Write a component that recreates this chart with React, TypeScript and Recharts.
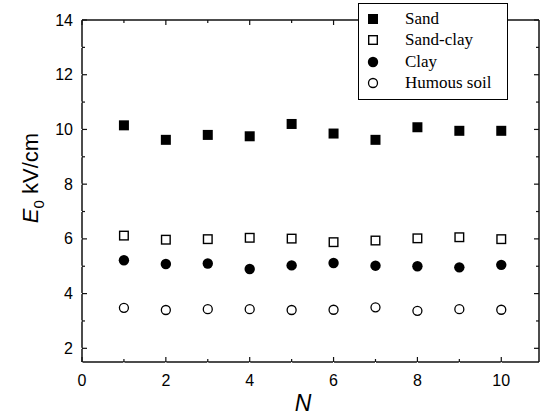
import React from 'react';
import { ScatterChart, Scatter, XAxis, YAxis, ReferenceLine } from 'recharts';

const nValues = [1, 2, 3, 4, 5, 6, 7, 8, 9, 10];
const sand = [10.15, 9.62, 9.8, 9.75, 10.2, 9.85, 9.62, 10.08, 9.95, 9.95];
const sandClay = [6.12, 5.97, 5.99, 6.04, 6.01, 5.88, 5.94, 6.02, 6.06, 5.99];
const clay = [5.22, 5.08, 5.1, 4.9, 5.03, 5.12, 5.02, 5.0, 4.96, 5.05];
const humous = [3.48, 3.4, 3.43, 3.43, 3.4, 3.41, 3.5, 3.37, 3.43, 3.41];

const xTicks = [0, 1, 2, 3, 4, 5, 6, 7, 8, 9, 10];
const yTicks = [2, 3, 4, 5, 6, 7, 8, 9, 10, 11, 12, 13, 14];
const seriesNames = ['Sand', 'Sand-clay', 'Clay', 'Humous soil'];
const xDomain = [0, 10.9];
const yDomain = [1.5, 14];

const toPoints = (vals: number[]) => nValues.map((n, i) => ({ n, v: vals[i] }));

const rightTickPts = yTicks.map((t) => ({ n: xDomain[1], v: t, t }));
const topTickPts = xTicks.map((t) => ({ n: t, v: yDomain[1], t }));

const INK = '#111';
const FONT = '"Liberation Sans", Arial, sans-serif';
const SERIF = '"Liberation Serif", "Times New Roman", serif';

type MarkerKind = 'fsq' | 'osq' | 'fci' | 'oci';

const Marker = ({ cx, cy, kind }: { cx: number; cy: number; kind: MarkerKind }) => {
  if (kind === 'fsq') return <rect x={cx - 5} y={cy - 5} width={10} height={10} fill="#000" />;
  if (kind === 'osq') return <rect x={cx - 4.3} y={cy - 4.3} width={8.6} height={8.6} fill="#fff" stroke="#000" strokeWidth={1.4} />;
  if (kind === 'fci') return <circle cx={cx} cy={cy} r={5.2} fill="#000" />;
  return <circle cx={cx} cy={cy} r={4.5} fill="#fff" stroke="#000" strokeWidth={1.3} />;
};

const mk = (kind: MarkerKind) => (props: any) => <Marker cx={Number(props.cx)} cy={Number(props.cy)} kind={kind} />;

const tickLen = (t: number) => (t % 2 === 0 ? 5 : 3);

const rightTickShape = (props: any) => {
  const len = tickLen(Number(props.payload && props.payload.t));
  return <rect x={Number(props.cx) - len} y={Number(props.cy) - 0.6} width={len} height={1.2} fill={INK} />;
};
const topTickShape = (props: any) => {
  const len = tickLen(Number(props.payload && props.payload.t));
  return <rect x={Number(props.cx) - 0.6} y={Number(props.cy)} width={1.2} height={len} fill={INK} />;
};

// tick label + inward tick mark; the axis sits tickSize + tickMargin away from the label anchor
const LeftTickLabel = (props: any) => {
  const v = props.payload.value;
  const x = Number(props.x);
  const y = Number(props.y);
  const ax = x + 6 + 3;
  const len = tickLen(v);
  return (
    <g>
      <rect x={ax} y={y - 0.6} width={len} height={1.2} fill={INK} />
      {v % 2 === 0 && (
        <text x={x} y={y} dy="0.35em" textAnchor="end" fontSize={16} fontFamily={FONT} fill="#000">
          {v}
        </text>
      )}
    </g>
  );
};

const BottomTickLabel = (props: any) => {
  const v = props.payload.value;
  const x = Number(props.x);
  const y = Number(props.y);
  const ay = y - 6 - 7;
  const len = tickLen(v);
  return (
    <g>
      <rect x={x - 0.6} y={ay - len} width={1.2} height={len} fill={INK} />
      {v % 2 === 0 && (
        <text x={x} y={y} dy="0.71em" textAnchor="middle" fontSize={16} fontFamily={FONT} fill="#000">
          {v}
        </text>
      )}
    </g>
  );
};

const kinds: MarkerKind[] = ['fsq', 'osq', 'fci', 'oci'];

const LegendBox = () => (
  <div
    style={{
      position: 'absolute',
      left: 358,
      top: 3,
      border: '1px solid #000',
      background: '#fff',
      width: 150,
      padding: '4px 0 5px 0',
      boxSizing: 'border-box',
    }}
  >
    {seriesNames.map((name, i) => (
      <div key={name} style={{ display: 'flex', alignItems: 'center', height: 21.5 }}>
        <svg width={46} height={20} style={{ display: 'block' }}>
          <Marker cx={14} cy={10} kind={kinds[i]} />
        </svg>
        <span style={{ fontFamily: SERIF, fontSize: 17, color: '#000', lineHeight: '20px' }}>{name}</span>
      </div>
    ))}
  </div>
);

const Titles = () => (
  <svg width={540} height={416} style={{ position: 'absolute', left: 0, top: 0, pointerEvents: 'none' }}>
    <text
      x={30}
      y={178}
      transform="rotate(-90 30 178)"
      textAnchor="middle"
      fontSize={22}
      fontFamily={FONT}
      fill="#000"
      dy="0.35em"
    >
      <tspan fontStyle="italic">E</tspan>
      <tspan fontSize={15} dy="6">0</tspan>
      <tspan dy="-6"> kV/cm</tspan>
    </text>
    <text x={303} y={411} textAnchor="middle" fontSize={23} fontStyle="italic" fontFamily={FONT} fill="#000">
      N
    </text>
  </svg>
);

export default function App() {
  return (
    <div style={{ position: 'absolute', left: 0, top: 0, width: 540, height: 416, background: '#fff' }}>
      <ScatterChart width={540} height={416} margin={{ top: 20, right: 1, bottom: 0, left: 0 }}>
        <XAxis
          xAxisId="b"
          dataKey="n"
          type="number"
          domain={xDomain}
          ticks={xTicks}
          interval={0}
          orientation="bottom"
          height={54}
          tickLine={{ stroke: '#ffffff', strokeWidth: 1 }}
          axisLine={{ stroke: INK, strokeWidth: 1.5 }}
          tickMargin={7}
          tick={<BottomTickLabel />}
        />
        <YAxis
          yAxisId="l"
          dataKey="v"
          type="number"
          domain={yDomain}
          ticks={yTicks}
          interval={0}
          orientation="left"
          width={82}
          tickLine={{ stroke: '#ffffff', strokeWidth: 1 }}
          axisLine={{ stroke: INK, strokeWidth: 1.5 }}
          tickMargin={3}
          tick={<LeftTickLabel />}
        />
        <ReferenceLine xAxisId="b" yAxisId="l" y={yDomain[1]} stroke={INK} strokeWidth={1.5} />
        <ReferenceLine xAxisId="b" yAxisId="l" x={xDomain[1]} stroke={INK} strokeWidth={1.5} />
        <Scatter name="rt" data={rightTickPts} xAxisId="b" yAxisId="l" shape={rightTickShape} legendType="none" isAnimationActive={false} />
        <Scatter name="tt" data={topTickPts} xAxisId="b" yAxisId="l" shape={topTickShape} legendType="none" isAnimationActive={false} />
        <Scatter name="Sand" data={toPoints(sand)} xAxisId="b" yAxisId="l" shape={mk('fsq')} isAnimationActive={false} />
        <Scatter name="Sand-clay" data={toPoints(sandClay)} xAxisId="b" yAxisId="l" shape={mk('osq')} isAnimationActive={false} />
        <Scatter name="Clay" data={toPoints(clay)} xAxisId="b" yAxisId="l" shape={mk('fci')} isAnimationActive={false} />
        <Scatter name="Humous soil" data={toPoints(humous)} xAxisId="b" yAxisId="l" shape={mk('oci')} isAnimationActive={false} />
      </ScatterChart>
      <Titles />
      <LegendBox />
    </div>
  );
}
